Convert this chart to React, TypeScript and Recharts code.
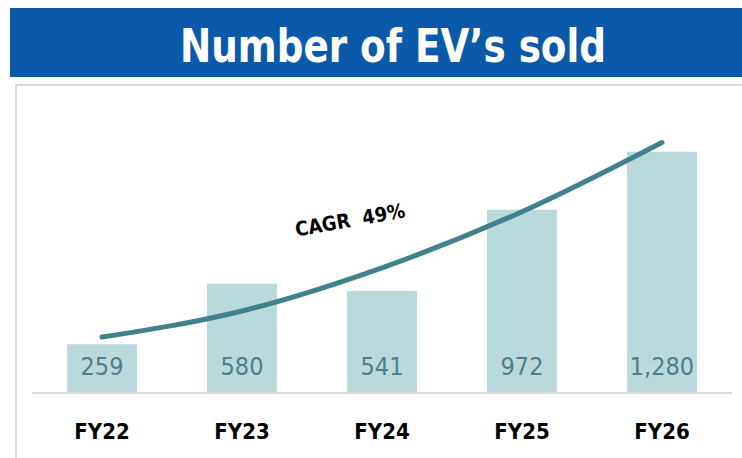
import React from 'react';
import { ComposedChart, Bar, Line, XAxis, YAxis, LabelList } from 'recharts';

const categories = ['FY22', 'FY23', 'FY24', 'FY25', 'FY26'];
const evSold = [259, 580, 541, 972, 1280];
const cagrCurve = [297, 435, 664, 961, 1328];
const titleText = 'Number of EV\u2019s sold';
const cagrLabel = 'CAGR\u00A0\u00A049%';

const data = categories.map((c, i) => ({ name: c, sold: evSold[i], trend: cagrCurve[i] }));

const FONT = '"DejaVu Sans Condensed", "Liberation Sans Narrow", "DejaVu Sans", sans-serif';

const Tick = (props: any) => {
  const { x, payload } = props;
  return (
    <text x={x} y={393 + 38} textAnchor="middle" dominantBaseline="central"
      fontFamily={FONT} fontWeight="bold" fontSize={22} fill="#000">
      {payload.value}
    </text>
  );
};

const BarLabel = (props: any) => {
  const { x, y, width, height, value } = props;
  return (
    <text x={x + width / 2} y={y + height - 27} textAnchor="middle" dominantBaseline="central"
      fontFamily={FONT} fontSize={25} fill="#4B7F8B">
      {Number(value).toLocaleString('en-US')}
    </text>
  );
};

export default function App() {
  return (
    <div style={{ position: 'absolute', left: 0, top: 0, width: 742, height: 458, background: '#fff', overflow: 'hidden' }}>
      <div style={{ position: 'absolute', left: 10, top: 8, width: 732, height: 69, background: '#0B5AA9' }} />
      <div style={{ position: 'absolute', left: 15, top: 84, width: 740, height: 400, borderLeft: '2px solid #D9D9D9', borderTop: '2px solid #D9D9D9' }} />
      <svg style={{ position: 'absolute', left: 0, top: 0 }} width={742} height={90}>
        <text x={393} y={62} textAnchor="middle" fontFamily={FONT} fontWeight="bold" fontSize={46}
          fill="#fff" textLength={426} lengthAdjust="spacingAndGlyphs">{titleText}</text>
      </svg>
      <div style={{ position: 'absolute', left: 0, top: 0 }}>
        <ComposedChart width={742} height={458} data={data}
          margin={{ top: 129, right: 10, left: 32, bottom: 25 }} barCategoryGap="25%">
          <XAxis dataKey="name" height={40} tickLine={false} axisLine={{ stroke: '#D9D9D9', strokeWidth: 2 }} tick={<Tick />} interval={0} />
          <YAxis hide domain={[0, 1400]} />
          <Bar dataKey="sold" fill="#B9D9DB" isAnimationActive={false}>
            <LabelList dataKey="sold" content={<BarLabel />} />
          </Bar>
          <Line dataKey="trend" type="monotone" stroke="#41808D" strokeWidth={5} strokeLinecap="round" dot={false} activeDot={false} isAnimationActive={false} />
        </ComposedChart>
      </div>
      <svg style={{ position: 'absolute', left: 0, top: 0, pointerEvents: 'none' }} width={742} height={458}>
        <text x={350} y={220} textAnchor="middle" dominantBaseline="central" fontFamily={FONT}
          fontWeight="bold" fontSize={20} fill="#000" transform="rotate(-10 350 220)">{cagrLabel}</text>
      </svg>
    </div>
  );
}
